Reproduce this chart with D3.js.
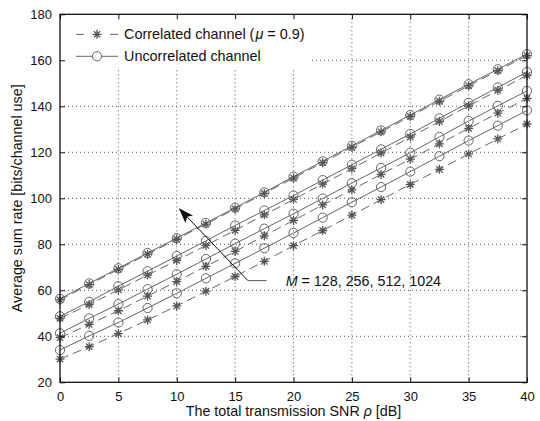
<!DOCTYPE html>
<html>
<head>
<meta charset="utf-8">
<script src="https://cdn.jsdelivr.net/npm/d3@7"></script>
<style>
  body { margin: 0; background: #fff; }
  text { font-family: "Liberation Sans", Arial, sans-serif; }
</style>
</head>
<body>
<div id="myChart"></div>
<script>
// data (sum rate vs SNR)
var snr = [0, 2.5, 5, 7.5, 10, 12.5, 15, 17.5, 20, 22.5, 25, 27.5, 30, 32.5, 35, 37.5, 40];

var uncorr1024 = [56.3, 63.0, 69.6, 76.2, 82.7, 89.3, 95.9, 102.6, 109.4, 116.1, 122.8, 129.5, 136.2, 142.9, 149.6, 156.1, 162.7];
var uncorr512  = [48.7, 55.0, 61.8, 68.3, 74.9, 81.5, 88.2, 94.7, 101.2, 107.9, 114.6, 121.3, 128.0, 134.8, 141.5, 148.2, 154.9];
var uncorr256  = [41.3, 47.8, 54.0, 60.5, 67.0, 73.6, 80.3, 86.8, 93.3, 99.9, 106.6, 113.2, 119.8, 126.7, 133.6, 140.2, 146.7];
var uncorr128  = [34.0, 40.2, 46.0, 52.3, 58.7, 65.2, 71.7, 78.3, 84.9, 91.6, 98.3, 104.9, 111.6, 118.3, 125.1, 131.6, 138.2];

var corr1024 = [55.8, 62.5, 69.1, 75.7, 82.2, 88.8, 95.4, 102.1, 108.8, 115.5, 122.2, 128.9, 135.6, 142.2, 148.9, 155.5, 162.0];
var corr512  = [47.8, 53.8, 60.2, 66.6, 73.0, 79.5, 86.1, 92.8, 99.5, 106.2, 112.9, 119.7, 126.6, 133.4, 140.2, 146.9, 153.4];
var corr256  = [39.4, 45.2, 51.1, 57.5, 63.8, 70.4, 76.9, 83.7, 90.4, 97.1, 103.7, 110.4, 117.0, 123.7, 130.4, 137.0, 143.4];
var corr128  = [30.1, 35.5, 41.2, 47.1, 53.2, 59.6, 66.0, 72.6, 79.4, 86.0, 92.7, 99.4, 106.0, 112.6, 119.3, 125.8, 132.3];

var xTicks = [0, 5, 10, 15, 20, 25, 30, 35, 40];
var yTicks = [20, 40, 60, 80, 100, 120, 140, 160, 180];

var legendLabels = ["Correlated channel (", "Uncorrelated channel"];
var annotation = {tip: [10.25, 95.3], tail: [16.1, 64.2], end: [17.7, 64.2], label: "128, 256, 512, 1024"};

// set the dimensions and margins of the graph
var margin = {top: 14.3, right: 13, bottom: 38.7, left: 60},
    width = 540 - margin.left - margin.right,
    height = 421 - margin.top - margin.bottom;

var lineGrey = "#666666",
    markGrey = "#555555";

var svg = d3.select("#myChart")
          .append("svg")
            .attr("width", 540)
            .attr("height", 421)
          .append("g")
            .attr("transform", "translate(" + margin.left + "," + margin.top + ")");

var x = d3.scaleLinear().domain([0, 40]).range([0, width]);
var y = d3.scaleLinear().domain([20, 180]).range([height, 0]);

// grid
svg.selectAll("xgrid")
    .data(xTicks.slice(1, -1))
    .enter()
    .append("line")
        .attr("x1", function(d) { return x(d); })
        .attr("x2", function(d) { return x(d); })
        .attr("y1", 0)
        .attr("y2", height)
        .attr("stroke", "#555")
        .attr("stroke-width", 1)
        .style("stroke-dasharray", "1,3");

svg.selectAll("ygrid")
    .data(yTicks.slice(1, -1))
    .enter()
    .append("line")
        .attr("x1", 0)
        .attr("x2", width)
        .attr("y1", function(d) { return y(d); })
        .attr("y2", function(d) { return y(d); })
        .attr("stroke", "#555")
        .attr("stroke-width", 1)
        .style("stroke-dasharray", "1,3");

// legend background hides the grid
svg.append("rect")
    .attr("x", 0.5)
    .attr("y", 0.5)
    .attr("width", 251)
    .attr("height", 54)
    .attr("fill", "#fff");

var line = d3.line()
    .x(function(d, i) { return x(snr[i]); })
    .y(function(d) { return y(d); });

var uncorr = [uncorr1024, uncorr512, uncorr256, uncorr128];
var corr = [corr1024, corr512, corr256, corr128];

// correlated: dashed + asterisks
corr.forEach(function(s) {
    svg.append("path")
        .datum(s)
        .attr("d", line)
        .attr("fill", "none")
        .attr("stroke", lineGrey)
        .attr("stroke-width", 1)
        .style("stroke-dasharray", "9,5");
});

// uncorrelated: solid + circles
uncorr.forEach(function(s) {
    svg.append("path")
        .datum(s)
        .attr("d", line)
        .attr("fill", "none")
        .attr("stroke", lineGrey)
        .attr("stroke-width", 1);
});

function star(cx, cy, r) {
    var d = r * 0.707;
    return "M" + (cx - r) + "," + cy + "L" + (cx + r) + "," + cy +
           "M" + cx + "," + (cy - r) + "L" + cx + "," + (cy + r) +
           "M" + (cx - d) + "," + (cy - d) + "L" + (cx + d) + "," + (cy + d) +
           "M" + (cx - d) + "," + (cy + d) + "L" + (cx + d) + "," + (cy - d);
}

corr.forEach(function(s) {
    svg.selectAll("mystar")
        .data(s)
        .enter()
        .append("path")
            .attr("d", function(d, i) { return star(x(snr[i]), y(d), 4.5); })
            .attr("stroke", markGrey)
            .attr("stroke-width", 1.3)
            .attr("fill", "none");
});

uncorr.forEach(function(s) {
    svg.selectAll("mycircle")
        .data(s)
        .enter()
        .append("circle")
            .attr("cx", function(d, i) { return x(snr[i]); })
            .attr("cy", function(d) { return y(d); })
            .attr("r", 4.6)
            .attr("fill", "none")
            .attr("stroke", lineGrey)
            .attr("stroke-width", 1);
});

// axes box with inward ticks
svg.append("g")
    .attr("transform", "translate(0," + height + ")")
    .call(d3.axisBottom(x).tickValues(xTicks).tickSizeInner(-5).tickSizeOuter(0).tickPadding(9))
    .call(function(g) { g.select(".domain").remove(); });

svg.append("g")
    .call(d3.axisTop(x).tickValues(xTicks).tickSizeInner(-5).tickSizeOuter(0).tickFormat(""))
    .call(function(g) { g.select(".domain").remove(); });

svg.append("g")
    .call(d3.axisLeft(y).tickValues(yTicks).tickSizeInner(-5).tickSizeOuter(0).tickPadding(8))
    .call(function(g) { g.select(".domain").remove(); });

svg.append("g")
    .attr("transform", "translate(" + width + ",0)")
    .call(d3.axisRight(y).tickValues(yTicks).tickSizeInner(-5).tickSizeOuter(0).tickFormat(""))
    .call(function(g) { g.select(".domain").remove(); });

svg.selectAll("g.tick text")
    .attr("font-family", "Liberation Sans, Arial, sans-serif")
    .attr("font-size", "13px")
    .attr("fill", "#111");

svg.selectAll("g.tick line")
    .attr("stroke", "#111");

svg.append("rect")
    .attr("width", width)
    .attr("height", height)
    .attr("fill", "none")
    .attr("stroke", "#111")
    .attr("stroke-width", 1.3);

// legend
var lg = svg.append("g").attr("transform", "translate(16,20)");
lg.append("line").attr("x1", 0).attr("x2", 8).attr("y1", 0).attr("y2", 0).attr("stroke", lineGrey);
lg.append("line").attr("x1", 34).attr("x2", 42).attr("y1", 0).attr("y2", 0).attr("stroke", lineGrey);
lg.append("path").attr("d", star(21, 0, 4.5)).attr("stroke", markGrey).attr("stroke-width", 1.3);
lg.append("line").attr("x1", 0).attr("x2", 42).attr("y1", 22).attr("y2", 22).attr("stroke", lineGrey);
lg.append("circle").attr("cx", 21).attr("cy", 22).attr("r", 4.6).attr("fill", "#fff").attr("stroke", lineGrey);

var t1 = lg.append("text")
    .attr("x", 48)
    .attr("y", 5)
    .attr("font-size", "14.4px")
    .attr("fill", "#111");
t1.append("tspan").text(legendLabels[0]);
t1.append("tspan").attr("font-style", "italic").attr("dx", 1).text("\u03bc");
t1.append("tspan").text(" = 0.9)");

lg.append("text")
    .attr("x", 48)
    .attr("y", 27)
    .attr("font-size", "14.4px")
    .attr("fill", "#111")
    .text(legendLabels[1]);

// arrow annotation
svg.append("defs").append("marker")
    .attr("id", "head")
    .attr("viewBox", "0 0 14 10")
    .attr("refX", 13)
    .attr("refY", 5)
    .attr("markerWidth", 15)
    .attr("markerHeight", 11)
    .attr("markerUnits", "userSpaceOnUse")
    .attr("orient", "auto")
  .append("path")
    .attr("d", "M0,0 L14,5 L0,10 L3,5 Z")
    .attr("fill", "#111");

svg.append("line")
    .attr("x1", x(annotation.tail[0]))
    .attr("y1", y(annotation.tail[1]))
    .attr("x2", x(annotation.tip[0]))
    .attr("y2", y(annotation.tip[1]))
    .attr("stroke", "#111")
    .attr("stroke-width", 1)
    .attr("marker-end", "url(#head)");

svg.append("line")
    .attr("x1", x(annotation.tail[0]))
    .attr("y1", y(annotation.tail[1]))
    .attr("x2", x(annotation.end[0]))
    .attr("y2", y(annotation.end[1]))
    .attr("stroke", "#555")
    .attr("stroke-width", 1);

var t3 = svg.append("text")
    .attr("x", x(annotation.end[0]) + 19)
    .attr("y", y(annotation.end[1]) + 5)
    .attr("font-size", "14.3px")
    .attr("fill", "#111");
t3.append("tspan").attr("font-style", "italic").text("M");
t3.append("tspan").text(" = " + annotation.label);

// axis labels
var xl = svg.append("text")
    .attr("x", width / 2)
    .attr("y", height + 34)
    .attr("text-anchor", "middle")
    .attr("font-size", "14.3px")
    .attr("fill", "#111");
xl.append("tspan").text("The total transmission SNR ");
xl.append("tspan").attr("font-style", "italic").text("\u03c1");
xl.append("tspan").text(" [dB]");

svg.append("text")
    .attr("transform", "translate(-38," + (height / 2) + ") rotate(-90)")
    .attr("text-anchor", "middle")
    .attr("font-size", "14.3px")
    .attr("fill", "#111")
    .text("Average sum rate [bits/channel use]");
</script>
</body>
</html>
